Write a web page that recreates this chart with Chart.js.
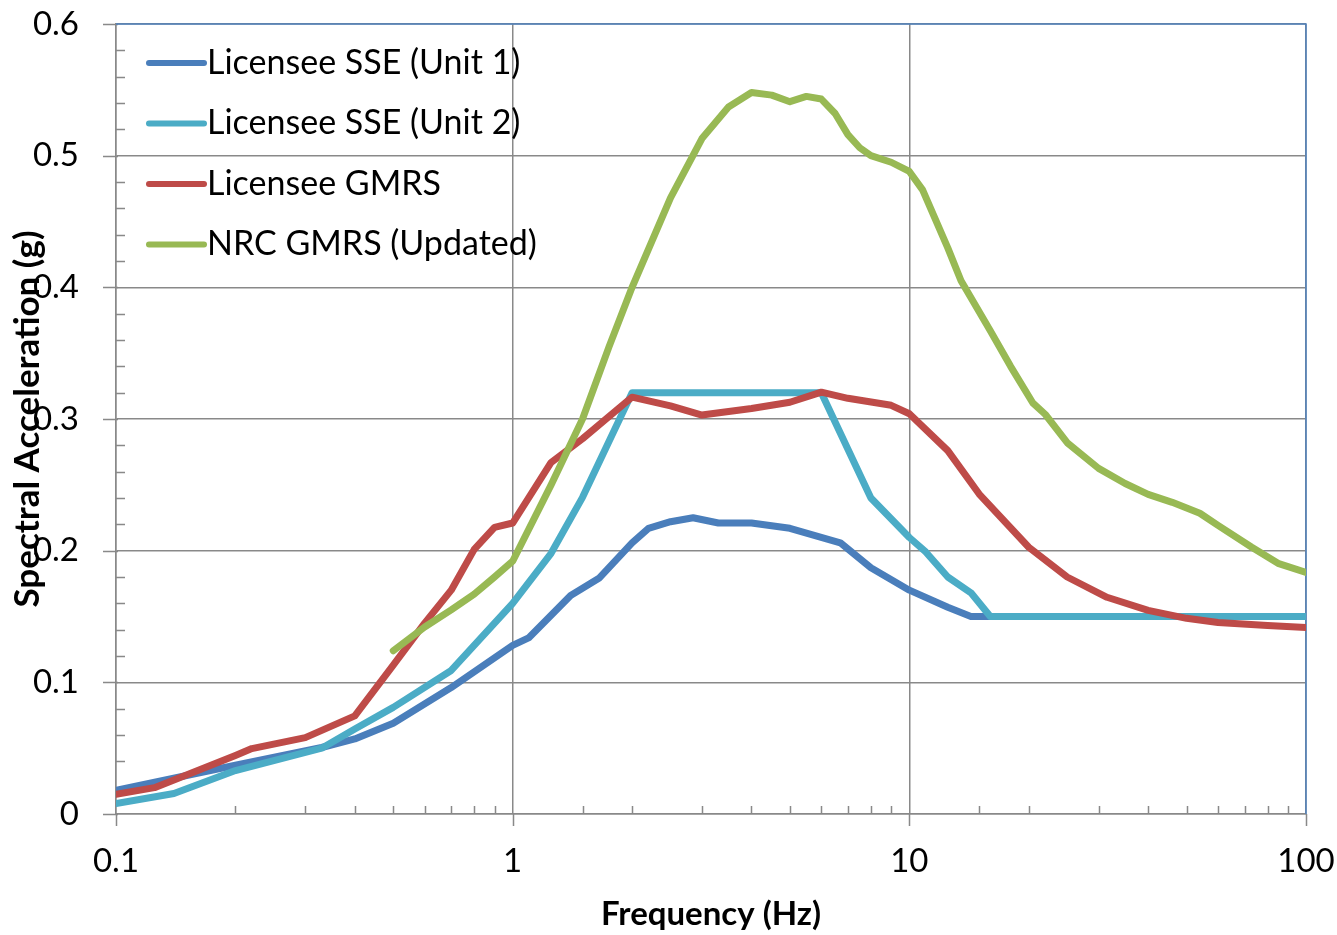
<!DOCTYPE html>
<html lang="en">
<head>
  <meta charset="UTF-8" />
  <title>Spectral Acceleration vs Frequency</title>
  <script src="https://cdn.jsdelivr.net/npm/chart.js"></script>
  <style>
    * { margin: 0; padding: 0; box-sizing: border-box; }
    body { background: #fff; }
    .wrap { width: 1337px; height: 935px; position: relative; }
  </style>
</head>
<body>
  <div class="wrap"><canvas id="spectra"></canvas></div>

  <script>
    // series labels and colours
    const seriesNames = ['Licensee SSE (Unit 1)', 'Licensee SSE (Unit 2)', 'Licensee GMRS', 'NRC GMRS (Updated)'];
    const seriesColors = ['#4a7ebb', '#4bacc6', '#be4b48', '#98b954'];

    // Licensee SSE (Unit 1)
    const freqSSE1 = [0.1, 0.2, 0.33, 0.4, 0.5, 0.7, 1, 1.1, 1.25, 1.4, 1.65, 2, 2.2, 2.5, 2.85, 3.3, 4, 5, 6.7, 8, 10, 12.5, 14.3, 33];
    const accSSE1  = [0.018, 0.037, 0.0505, 0.057, 0.069, 0.096, 0.128, 0.134, 0.151, 0.166, 0.179, 0.206, 0.217, 0.222, 0.225, 0.221, 0.221, 0.217, 0.206, 0.187, 0.170, 0.157, 0.15, 0.15];

    // Licensee SSE (Unit 2)
    const freqSSE2 = [0.1, 0.14, 0.2, 0.33, 0.4, 0.5, 0.7, 1, 1.25, 1.5, 2, 6, 8, 10, 11, 12.5, 14.3, 16, 100];
    const accSSE2  = [0.008, 0.0156, 0.033, 0.050, 0.0646, 0.081, 0.109, 0.160, 0.198, 0.2405, 0.32, 0.32, 0.240, 0.210, 0.199, 0.180, 0.168, 0.15, 0.15];

    // Licensee GMRS
    const freqGMRS = [0.1, 0.125, 0.2, 0.22, 0.3, 0.4, 0.5, 0.6, 0.7, 0.8, 0.9, 1, 1.25, 1.5, 2, 2.5, 3, 4, 5, 6, 7, 9, 10, 12.5, 15, 20, 25, 31.5, 40, 50, 60, 80, 100];
    const accGMRS  = [0.015, 0.020, 0.0445, 0.0497, 0.058, 0.0745, 0.113, 0.145, 0.170, 0.201, 0.2177, 0.221, 0.267, 0.285, 0.3166, 0.310, 0.303, 0.308, 0.3127, 0.3204, 0.3157, 0.3104, 0.304, 0.276, 0.243, 0.2026, 0.180, 0.1646, 0.1547, 0.1486, 0.1455, 0.1432, 0.1417];

    // NRC GMRS (Updated)
    const freqNRC = [0.5, 0.6, 0.7, 0.8, 0.9, 1, 1.25, 1.5, 1.75, 2, 2.5, 3, 3.5, 4, 4.5, 5, 5.5, 6, 6.5, 7, 7.5, 8, 9, 10, 10.8, 12.5, 13.5, 16, 18, 20.5, 22, 25, 30, 35, 40, 46, 54, 60, 73, 85, 100];
    const accNRC  = [0.124, 0.142, 0.155, 0.167, 0.18, 0.192, 0.25, 0.30, 0.355, 0.40, 0.468, 0.513, 0.537, 0.548, 0.546, 0.541, 0.545, 0.543, 0.532, 0.516, 0.506, 0.500, 0.495, 0.488, 0.474, 0.43, 0.405, 0.367, 0.34, 0.312, 0.3036, 0.282, 0.2625, 0.251, 0.2428, 0.2367, 0.2284, 0.2192, 0.2026, 0.1904, 0.1835];

    // axis tick labels
    const xTickLabels = [0.1, 1, 10, 100];
    const yTickLabels = [0, 0.1, 0.2, 0.3, 0.4, 0.5, 0.6];

    const allFreq = [freqSSE1, freqSSE2, freqGMRS, freqNRC];
    const allAcc = [accSSE1, accSSE2, accGMRS, accNRC];

    const gridGray = '#898989';
    const isDecade = v => xTickLabels.some(t => Math.abs(t - v) < 1e-9);
    const isMajorY = v => Math.abs(v * 10 - Math.round(v * 10)) < 1e-6;

    Chart.defaults.font.family = 'Lato';
    Chart.defaults.color = '#000';

    // tick marks, frame, legend and axis titles
    const decor = {
      id: 'decor',
      beforeDatasetsDraw(chart) {
        const { ctx, chartArea: a, scales: { x, y } } = chart;
        ctx.save();
        ctx.strokeStyle = gridGray;
        ctx.lineWidth = 1.5;
        ctx.beginPath();
        x.ticks.forEach(t => {
          const px = Math.round(x.getPixelForValue(t.value)) + 0.5;
          if (isDecade(t.value)) { ctx.moveTo(px, a.bottom); ctx.lineTo(px, a.bottom + 12); }
          else { ctx.moveTo(px, a.bottom); ctx.lineTo(px, a.bottom - 8); }
        });
        y.ticks.forEach(t => {
          const py = Math.round(y.getPixelForValue(t.value)) + 0.5;
          if (isMajorY(t.value)) { ctx.moveTo(a.left - 13, py); ctx.lineTo(a.left + 2, py); }
          else { ctx.moveTo(a.left, py); ctx.lineTo(a.left + 9, py); }
        });
        ctx.stroke();

        ctx.strokeStyle = '#4f81bd';
        ctx.beginPath();
        ctx.moveTo(a.left, a.top);
        ctx.lineTo(a.right, a.top);
        ctx.lineTo(a.right, a.bottom);
        ctx.stroke();
        ctx.restore();
      },
      afterDraw(chart) {
        const { ctx, chartArea: a } = chart;
        ctx.save();
        // legend
        ctx.font = '34px Lato';
        ctx.textBaseline = 'middle';
        ctx.textAlign = 'left';
        chart.data.datasets.forEach((ds, i) => {
          const ly = 63 + i * 60.5;
          ctx.strokeStyle = ds.borderColor;
          ctx.lineWidth = 6;
          ctx.lineCap = 'round';
          ctx.beginPath();
          ctx.moveTo(149, ly);
          ctx.lineTo(204, ly);
          ctx.stroke();
          ctx.fillStyle = '#000';
          ctx.fillText(ds.label, 207, ly);
        });
        // axis titles
        ctx.font = 'bold 33px Lato';
        ctx.textAlign = 'center';
        ctx.fillText('Frequency (Hz)', (a.left + a.right) / 2, 914);
        ctx.font = 'bold 35px Lato';
        ctx.translate(28, (a.top + a.bottom) / 2);
        ctx.rotate(-Math.PI / 2);
        ctx.fillText('Spectral Acceleration (g)', 0, 0);
        ctx.restore();
      }
    };

    new Chart(document.getElementById('spectra'), {
      type: 'line',
      data: {
        datasets: seriesNames.map((name, i) => ({
          label: name,
          data: allFreq[i].map((f, j) => ({ x: f, y: allAcc[i][j] })),
          borderColor: seriesColors[i],
          backgroundColor: seriesColors[i],
          borderWidth: 7,
          borderJoinStyle: 'round',
          borderCapStyle: 'round',
          pointRadius: 0,
          tension: 0,
          order: 4 - i
        }))
      },
      options: {
        responsive: true,
        maintainAspectRatio: false,
        animation: false,
        layout: { padding: { top: 24, right: 31, left: 0, bottom: 0 } },
        plugins: { legend: { display: false }, tooltip: { enabled: false } },
        scales: {
          x: {
            type: 'logarithmic',
            min: 0.1,
            max: 100,
            afterFit: s => { s.height = 121; s.paddingLeft = 0; s.paddingRight = 0; },
            grid: {
              drawTicks: false,
              lineWidth: 1.5,
              color: c => (c.tick && isDecade(c.tick.value)) ? gridGray : 'rgba(0,0,0,0)'
            },
            border: { display: true, color: gridGray, width: 1.5 },
            ticks: {
              autoSkip: false,
              maxRotation: 0,
              padding: 28,
              font: { size: 33 },
              callback: v => isDecade(v) ? String(xTickLabels.find(t => Math.abs(t - v) < 1e-9)) : ''
            }
          },
          y: {
            min: 0,
            max: 0.6,
            afterFit: s => { s.width = 116; s.paddingTop = 0; s.paddingBottom = 0; },
            grid: {
              drawTicks: false,
              lineWidth: 1.5,
              color: c => (c.tick && isMajorY(c.tick.value)) ? gridGray : 'rgba(0,0,0,0)'
            },
            border: { display: true, color: gridGray, width: 1.5 },
            ticks: {
              stepSize: 0.02,
              autoSkip: false,
              padding: 37,
              font: { size: 33 },
              callback: v => {
                if (!isMajorY(v)) return '';
                const t = yTickLabels.find(l => Math.abs(l - v) < 1e-6);
                return t === 0 ? '0' : t.toFixed(1);
              }
            }
          }
        }
      },
      plugins: [decor]
    });
  </script>
</body>
</html>
